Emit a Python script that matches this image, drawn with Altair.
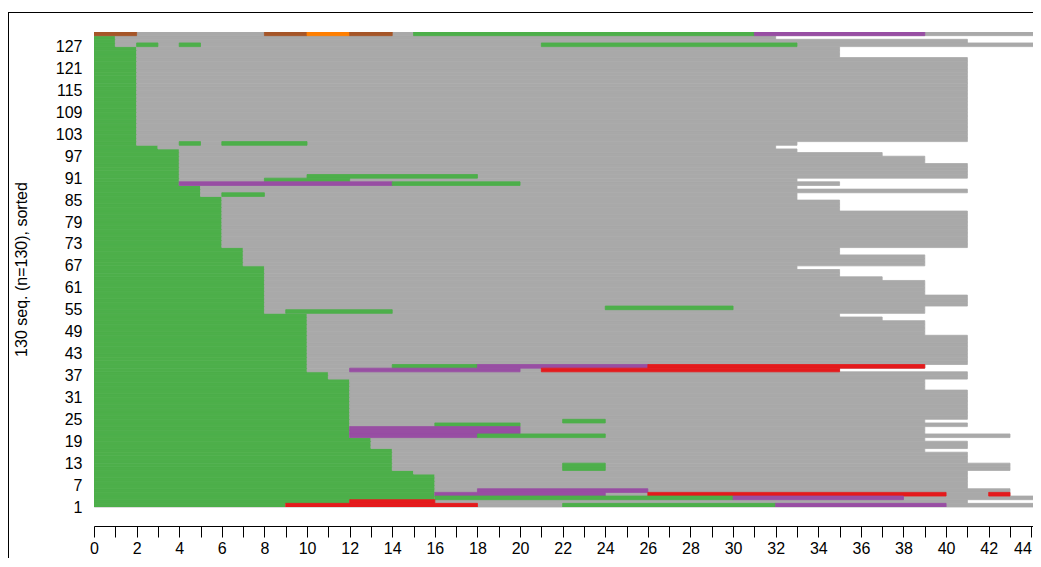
import altair as alt
import pandas as pd

# ---------------- data ----------------
# rows are numbered 1 (bottom) .. 130 (top); positions 0..45
# length of the initial green spell for rows 1..130
green_len = [
    9, 12, 16, 16, 16, 16, 16, 16, 16, 15,    # 1-10
    14, 14, 14, 14, 14, 14, 13, 13, 13, 12,   # 11-20
    12, 12, 12, 12, 12, 12, 12, 12, 12, 12,   # 21-30
    12, 12, 12, 12, 12, 11, 11, 10, 10, 10,   # 31-40
    10, 10, 10, 10, 10, 10, 10, 10, 10, 10,   # 41-50
    10, 10, 10, 8, 8, 8, 8, 8, 8, 8,          # 51-60
    8, 8, 8, 8, 8, 8, 7, 7, 7, 7,             # 61-70
    7, 6, 6, 6, 6, 6, 6, 6, 6, 6,             # 71-80
    6, 6, 6, 6, 6, 5, 5, 5, 4, 4,             # 81-90
    4, 4, 4, 4, 4, 4, 4, 4, 3, 2,             # 91-100
    2, 2, 2, 2, 2, 2, 2, 2, 2, 2,             # 101-110
    2, 2, 2, 2, 2, 2, 2, 2, 2, 2,             # 111-120
    2, 2, 2, 2, 2, 2, 1, 1, 1, 0,             # 121-130
]

# total sequence length (end of the grey spell) for rows 1..130
seq_len = [
    45, 41, 45, 43, 43, 41, 41, 41, 41, 41,   # 1-10
    43, 43, 41, 41, 41, 39, 41, 41, 39, 43,   # 11-20
    39, 39, 41, 39, 41, 41, 41, 41, 41, 41,   # 21-30
    41, 41, 39, 39, 39, 41, 41, 35, 39, 41,   # 31-40
    41, 41, 41, 41, 41, 41, 41, 39, 39, 39,   # 41-50
    39, 37, 35, 39, 39, 41, 41, 41, 39, 39,   # 51-60
    39, 39, 37, 35, 35, 33, 39, 39, 39, 35,   # 61-70
    35, 41, 41, 41, 41, 41, 41, 41, 41, 41,   # 71-80
    41, 35, 35, 35, 33, 33, 41, 33, 35, 33,   # 81-90
    41, 41, 41, 41, 39, 39, 37, 33, 32, 33,   # 91-100
    41, 41, 41, 41, 41, 41, 41, 41, 41, 41,   # 101-110
    41, 41, 41, 41, 41, 41, 41, 41, 41, 41,   # 111-120
    41, 41, 41, 35, 35, 35, 45, 41, 32, 45,   # 121-130
]

# further spells drawn over the green/grey base
extra_row = [130, 130, 130, 130, 130, 130,
             127, 127, 127,
             100, 100,
             91, 90, 89, 89, 86,
             55, 54,
             39, 39, 39, 38, 38,
             24, 23, 22, 21, 20, 20,
             12, 11,
             5, 4, 4, 4, 3, 3, 2, 1, 1, 1]
extra_start = [0, 8, 10, 12, 15, 31,
               2, 4, 21,
               4, 6,
               10, 8, 4, 14, 6,
               24, 9,
               14, 18, 26, 12, 21,
               22, 16, 12, 12, 12, 18,
               22, 22,
               18, 16, 26, 42, 16, 30, 12, 9, 22, 32]
extra_end = [2, 10, 12, 14, 31, 39,
             3, 5, 33,
             5, 10,
             18, 12, 14, 20, 8,
             30, 14,
             18, 26, 39, 20, 35,
             24, 20, 20, 20, 18, 24,
             24, 24,
             26, 24, 40, 43, 30, 38, 16, 18, 32, 40]
extra_state = ["brown", "brown", "orange", "brown", "green", "purple",
               "green", "green", "green",
               "green", "green",
               "green", "green", "purple", "green", "green",
               "green", "green",
               "green", "purple", "red", "purple", "red",
               "green", "green", "purple", "purple", "purple", "green",
               "green", "green",
               "purple", "purple", "red", "red", "green", "purple", "red", "red", "green", "purple"]

states = ["green", "grey", "purple", "red", "brown", "orange"]
state_colors = ["#4DAF4A", "#A9A9A9", "#984EA3", "#E41A1C", "#A65628", "#FF7F00"]

y_tick_labels = [1, 7, 13, 19, 25, 31, 37, 43, 49, 55, 61, 67, 73, 79, 85,
                 91, 97, 103, 109, 115, 121, 127]
x_ticks = list(range(0, 45))

# ---------------- table of spells ----------------
recs = []
for i in range(len(green_len)):
    r = i + 1
    g = green_len[i]
    L = seq_len[i]
    if g > 0:
        recs.append({"row": r, "start": 0, "end": g, "state": "green", "order": 0})
    recs.append({"row": r, "start": g, "end": L, "state": "grey", "order": 0})
for r, s, e, st in zip(extra_row, extra_start, extra_end, extra_state):
    recs.append({"row": r, "start": s, "end": e, "state": st, "order": 1})
df = pd.DataFrame(recs)
df["y0"] = df["row"] - 1
df["y1"] = df["row"]

FONT = "Liberation Sans"
state_scale = alt.Scale(domain=states, range=state_colors)

bars = alt.Chart(df).mark_rect(clip=True, strokeWidth=0.8).encode(
    x=alt.X("start:Q",
            scale=alt.Scale(domain=[0, 44.08], nice=False, zero=False),
            axis=alt.Axis(values=x_ticks, title=None, grid=False,
                          labelExpr="datum.value % 2 === 0 ? datum.label : ''",
                          labelOverlap=False, labelFlush=False,
                          labelAlign={"condition": {"test": "datum.value >= 44",
                                                    "value": "right"},
                                      "value": "center"},
                          offset=19, tickSize=11, tickColor="black", tickWidth=1,
                          domainColor="black", domainWidth=1,
                          labelFont=FONT, labelFontSize=16, labelColor="black",
                          labelPadding=3)),
    x2="end:Q",
    y=alt.Y("y0:Q",
            scale=alt.Scale(domain=[0, 130], nice=False, zero=False),
            axis=alt.Axis(values=[v - 1 for v in y_tick_labels],
                          labelExpr="datum.value + 1",
                          grid=False, domain=False, ticks=False, tickSize=0,
                          labelPadding=12, labelOverlap=False, labelFlush=False,
                          labelFont=FONT, labelFontSize=16, labelColor="black",
                          labelBaseline="middle",
                          title="130 seq. (n=130), sorted",
                          titleFont=FONT, titleFontSize=16, titleFontWeight="normal",
                          titleColor="black", titleAngle=270,
                          titleX=-73, titleY=237, titleAlign="center",
                          titleBaseline="middle")),
    y2="y1:Q",
    color=alt.Color("state:N", scale=state_scale, legend=None),
    stroke=alt.Stroke("state:N", scale=state_scale, legend=None),
    order=alt.Order("order:Q"),
)

frame_src = pd.DataFrame({"k": [0]})
frame_left = alt.Chart(frame_src).mark_rule(color="black", strokeWidth=1, clip=False).encode(
    x=alt.value(-85.5), y=alt.value(-20), y2=alt.value(620))
frame_top = alt.Chart(frame_src).mark_rule(color="black", strokeWidth=1, clip=False).encode(
    x=alt.value(-86), x2=alt.value(960), y=alt.value(-19.5))

chart = alt.layer(bars, frame_left, frame_top).properties(
    width=939, height=475,
    padding={"left": 86, "top": 24, "right": 0, "bottom": 51},
    autosize="none",
).configure_view(stroke=None).configure(background="white")

chart.save("out.html", embed_options={"renderer": "svg", "actions": False})
